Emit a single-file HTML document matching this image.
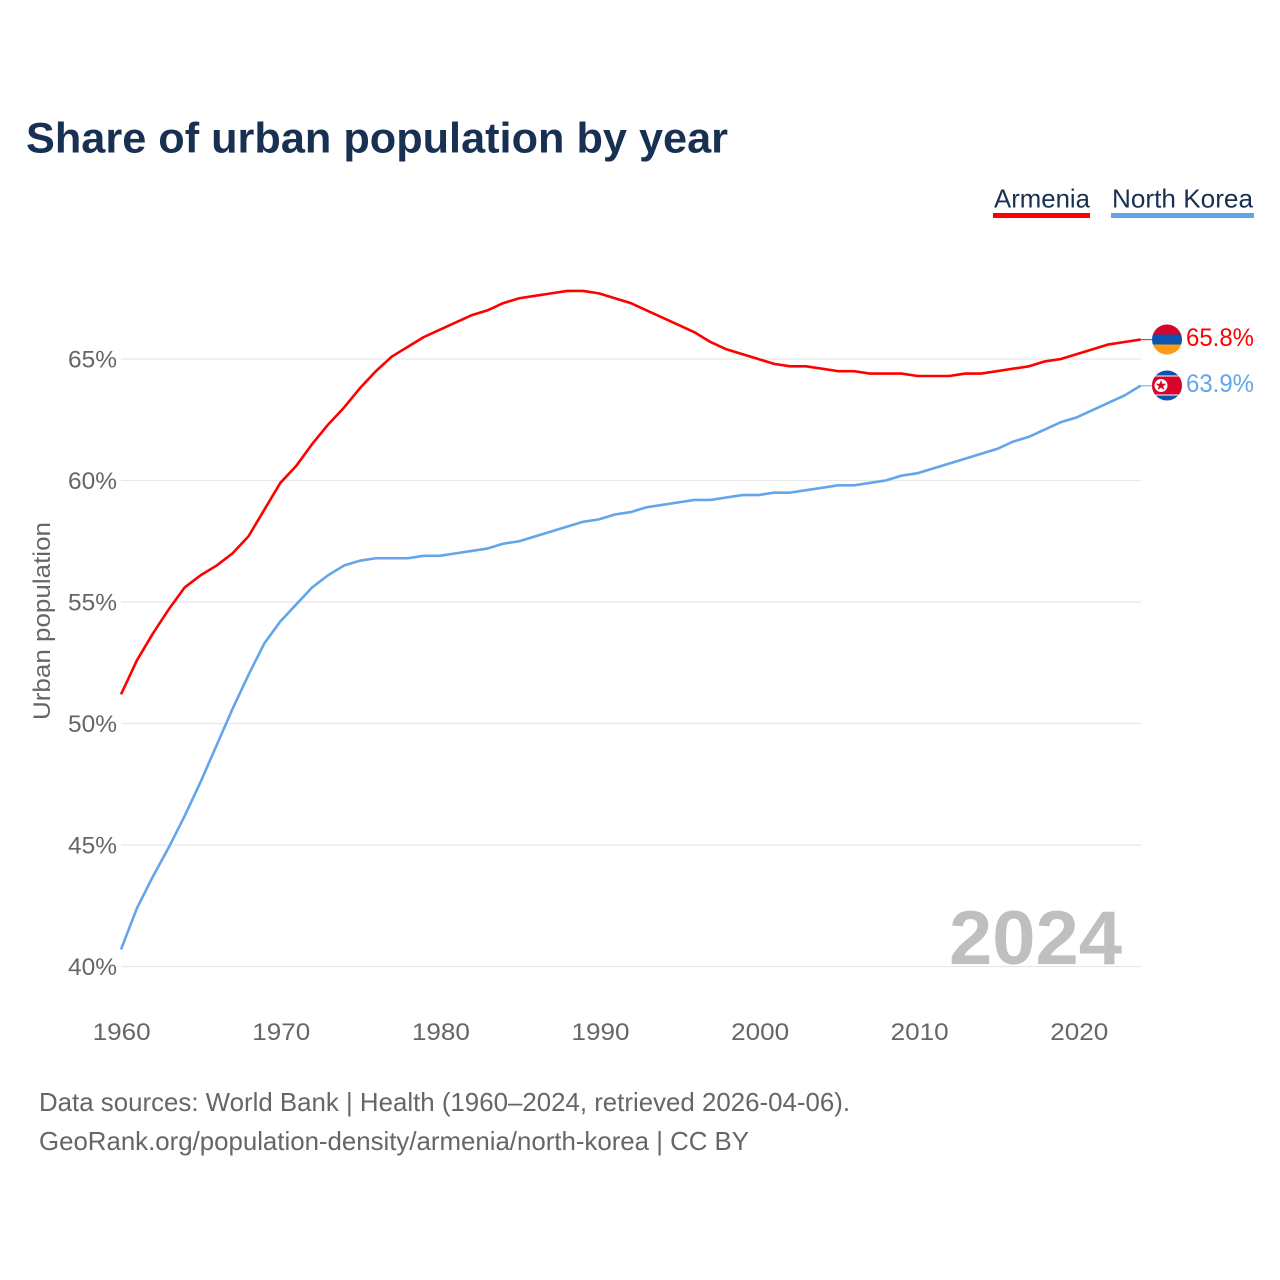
<!DOCTYPE html>
<html lang="en">
<head>
<meta charset="utf-8">
<title>Share of urban population by year</title>
<style>
html,body{margin:0;padding:0;background:#fff;width:1280px;height:1280px;overflow:hidden}
svg{display:block;font-family:"Liberation Sans",sans-serif}
</style>
</head>
<body>
<svg id="chart" xmlns="http://www.w3.org/2000/svg" width="1280" height="1280" viewBox="0 0 1280 1280">
  <defs>
    <clipPath id="clip-am"><circle cx="1167" cy="339.5" r="15"></circle></clipPath>
    <clipPath id="clip-kp"><circle cx="1167" cy="385.5" r="15"></circle></clipPath>
  </defs>
  <rect width="1280" height="1280" fill="#fff"></rect>
  <text x="26" y="152.5" font-size="43" font-weight="700" fill="#183153" textLength="702" lengthAdjust="spacingAndGlyphs">Share of urban population by year</text>

  <g>
    <text x="994" y="207.5" font-size="26" fill="#183153" textLength="96" lengthAdjust="spacingAndGlyphs">Armenia</text>
    <rect x="993" y="213" width="97" height="5" fill="#ff0000"></rect>
  </g>
  <g>
    <text x="1112" y="207.5" font-size="26" fill="#183153" textLength="141" lengthAdjust="spacingAndGlyphs">North Korea</text>
    <rect x="1111" y="213" width="143" height="5" fill="#63a5eb"></rect>
  </g>

  <g id="grid"></g>
  <g id="yticks"></g>
  <g id="xticks"></g>
  <text transform="translate(50,621) rotate(-90)" text-anchor="middle" font-size="24" fill="#666" textLength="198" lengthAdjust="spacingAndGlyphs">Urban population</text>

  <text x="1122" y="964" text-anchor="end" font-size="76" font-weight="700" fill="#bfbfbf" textLength="173" lengthAdjust="spacingAndGlyphs">2024</text>

  <g id="series"></g>

  <g clip-path="url(#clip-am)">
    <rect x="1152" y="324.5" width="30" height="10" fill="#d90429"></rect>
    <rect x="1152" y="334.5" width="30" height="10" fill="#0a55b4"></rect>
    <rect x="1152" y="344.5" width="30" height="10" fill="#ff9a12"></rect>
  </g>
  <g clip-path="url(#clip-kp)">
    <rect x="1152" y="370.5" width="30" height="30" fill="#0a55b4"></rect>
    <rect x="1152" y="375.5" width="30" height="20" fill="#fff"></rect>
    <rect x="1152" y="376.5" width="30" height="18" fill="#d90429"></rect>
    <circle cx="1161" cy="385.5" r="6.5" fill="#fff"></circle>
    <polygon points="1161,380 1162.4,383.7 1166.2,383.8 1163.2,386.2 1164.3,390 1161,387.8 1157.7,390 1158.8,386.2 1155.8,383.8 1159.6,383.7" fill="#d90429"></polygon>
  </g>

  <text x="1186" y="346" font-size="25" fill="#ff0000" textLength="68" lengthAdjust="spacingAndGlyphs">65.8%</text>
  <text x="1186" y="392" font-size="25" fill="#63a5eb" textLength="68" lengthAdjust="spacingAndGlyphs">63.9%</text>

  <text x="39" y="1111" font-size="26" fill="#666" textLength="811" lengthAdjust="spacingAndGlyphs">Data sources: World Bank | Health (1960–2024, retrieved 2026-04-06).</text>
  <text x="39" y="1150" font-size="26" fill="#666" textLength="710" lengthAdjust="spacingAndGlyphs">GeoRank.org/population-density/armenia/north-korea | CC BY</text>
</svg>
<script>
const startYear = 1960;
const armenia = [51.2,52.6,53.7,54.7,55.6,56.1,56.5,57.0,57.7,58.8,59.9,60.6,61.5,62.3,63.0,63.8,64.5,65.1,65.5,65.9,66.2,66.5,66.8,67.0,67.3,67.5,67.6,67.7,67.8,67.8,67.7,67.5,67.3,67.0,66.7,66.4,66.1,65.7,65.4,65.2,65.0,64.8,64.7,64.7,64.6,64.5,64.5,64.4,64.4,64.4,64.3,64.3,64.3,64.4,64.4,64.5,64.6,64.7,64.9,65.0,65.2,65.4,65.6,65.7,65.8];
const northKorea = [40.7,42.4,43.7,44.9,46.2,47.6,49.1,50.6,52.0,53.3,54.2,54.9,55.6,56.1,56.5,56.7,56.8,56.8,56.8,56.9,56.9,57.0,57.1,57.2,57.4,57.5,57.7,57.9,58.1,58.3,58.4,58.6,58.7,58.9,59.0,59.1,59.2,59.2,59.3,59.4,59.4,59.5,59.5,59.6,59.7,59.8,59.8,59.9,60.0,60.2,60.3,60.5,60.7,60.9,61.1,61.3,61.6,61.8,62.1,62.4,62.6,62.9,63.2,63.5,63.9];
const yTicks = [40,45,50,55,60,65];
const xTicks = [1960,1970,1980,1990,2000,2010,2020];

const NS = 'http://www.w3.org/2000/svg';
const xScale = function (year) { return 121 + (year - 1960) * 15.93; };
const xLabelScale = function (year) { return 121.7 + (year - 1960) * 15.96; };
const yScale = function (v) { return 966.5 - (v - 40) * 24.3; };
const FLAG_X = 1152;

function make(tag, parent, attrs, text) {
  const el = document.createElementNS(NS, tag);
  Object.keys(attrs).forEach(function (k) { el.setAttribute(k, attrs[k]); });
  if (text !== undefined) el.textContent = text;
  parent.appendChild(el);
  return el;
}

const gridG = document.getElementById('grid');
const yG = document.getElementById('yticks');
const xG = document.getElementById('xticks');
const seriesG = document.getElementById('series');

yTicks.forEach(function (t) {
  const line = make('line', gridG, {x1: 121, x2: 1141, y1: yScale(t), y2: yScale(t), stroke: '#e8e8e8', 'stroke-width': 1.2});
  
  
  const lab = make('text', yG, {x: 117, y: yScale(t) + 8.5, 'text-anchor': 'end', 'font-size': 24, fill: '#666', textLength: 49, lengthAdjust: 'spacingAndGlyphs'}, t + '%');
  
  
});

xTicks.forEach(function (t) {
  const lab = make('text', xG, {x: xLabelScale(t), y: 1040, 'text-anchor': 'middle', 'font-size': 24, fill: '#666', textLength: 58, lengthAdjust: 'spacingAndGlyphs'}, String(t));
  
  
});

function drawSeries(values, color, name) {
  const pts = values.map(function (v, i) {
    return xScale(startYear + i).toFixed(2) + ',' + yScale(v).toFixed(2);
  });
  const lastY = yScale(values[values.length - 1]).toFixed(2);
  const path = make('polyline', seriesG, {points: pts.join(' '), fill: 'none', stroke: color, 'stroke-width': 2.6, 'stroke-linejoin': 'round'});
  
  
  const conn = make('line', seriesG, {x1: xScale(startYear + values.length - 1), x2: FLAG_X, y1: lastY, y2: lastY, stroke: color, 'stroke-width': 1.2, 'stroke-opacity': 0.8});
  
  
}

drawSeries(armenia, '#ff0000', 'armenia');
drawSeries(northKorea, '#63a5eb', 'north-korea');
</script>
</body>
</html>
